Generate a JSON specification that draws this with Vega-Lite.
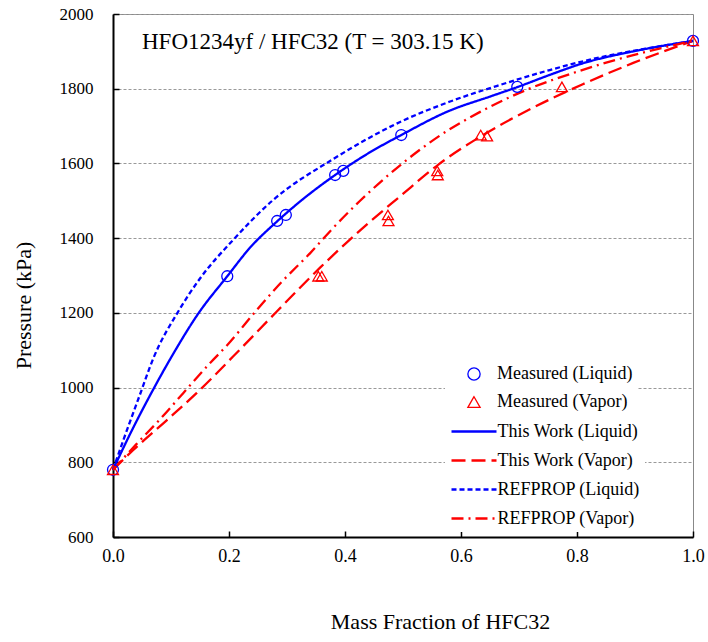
{
  "$schema": "https://vega.github.io/schema/vega-lite/v6.json",
  "width": 580,
  "height": 523,
  "autosize": {"type": "none"},
  "padding": {"left": 113, "top": 14, "right": 15, "bottom": 105},
  "background": "white",
  "config": {
    "font": "Liberation Serif",
    "view": {"stroke": "#888888", "strokeWidth": 1},
    "axis": {"labelFont": "Liberation Serif", "titleFont": "Liberation Serif", "labelColor": "black", "titleColor": "black", "titleFontWeight": "normal"},
    "legend": {"labelFont": "Liberation Serif", "labelColor": "black"}
  },
  "title": {
    "text": "HFO1234yf / HFC32 (T = 303.15 K)",
    "anchor": "start",
    "frame": "group",
    "orient": "top",
    "offset": 0,
    "baseline": "alphabetic",
    "dx": 29,
    "dy": 67,
    "font": "Liberation Serif",
    "fontSize": 23,
    "fontWeight": "normal",
    "color": "black"
  },
  "datasets": {
    "points": [
      {"series": "Measured (Liquid)", "x": 0.0, "p": 780},
      {"series": "Measured (Liquid)", "x": 0.197, "p": 1298},
      {"series": "Measured (Liquid)", "x": 0.283, "p": 1446},
      {"series": "Measured (Liquid)", "x": 0.298, "p": 1462},
      {"series": "Measured (Liquid)", "x": 0.383, "p": 1569},
      {"series": "Measured (Liquid)", "x": 0.397, "p": 1580},
      {"series": "Measured (Liquid)", "x": 0.497, "p": 1676},
      {"series": "Measured (Liquid)", "x": 0.697, "p": 1805},
      {"series": "Measured (Liquid)", "x": 1.0, "p": 1928},
      {"series": "Measured (Vapor)", "x": 0.0, "p": 780},
      {"series": "Measured (Vapor)", "x": 0.354, "p": 1298},
      {"series": "Measured (Vapor)", "x": 0.36, "p": 1298},
      {"series": "Measured (Vapor)", "x": 0.474, "p": 1462},
      {"series": "Measured (Vapor)", "x": 0.475, "p": 1446},
      {"series": "Measured (Vapor)", "x": 0.559, "p": 1580},
      {"series": "Measured (Vapor)", "x": 0.56, "p": 1569},
      {"series": "Measured (Vapor)", "x": 0.634, "p": 1676},
      {"series": "Measured (Vapor)", "x": 0.645, "p": 1673},
      {"series": "Measured (Vapor)", "x": 0.774, "p": 1805},
      {"series": "Measured (Vapor)", "x": 1.0, "p": 1928}
    ],
    "curves": [
      {"series": "This Work (Liquid)", "x": 0.0, "p": 780},
      {"series": "This Work (Liquid)", "x": 0.035, "p": 893},
      {"series": "This Work (Liquid)", "x": 0.058, "p": 962},
      {"series": "This Work (Liquid)", "x": 0.1, "p": 1080},
      {"series": "This Work (Liquid)", "x": 0.147, "p": 1198},
      {"series": "This Work (Liquid)", "x": 0.197, "p": 1298},
      {"series": "This Work (Liquid)", "x": 0.236, "p": 1374},
      {"series": "This Work (Liquid)", "x": 0.283, "p": 1445},
      {"series": "This Work (Liquid)", "x": 0.328, "p": 1505},
      {"series": "This Work (Liquid)", "x": 0.383, "p": 1569},
      {"series": "This Work (Liquid)", "x": 0.44, "p": 1627},
      {"series": "This Work (Liquid)", "x": 0.497, "p": 1676},
      {"series": "This Work (Liquid)", "x": 0.58, "p": 1741},
      {"series": "This Work (Liquid)", "x": 0.65, "p": 1779},
      {"series": "This Work (Liquid)", "x": 0.7, "p": 1806},
      {"series": "This Work (Liquid)", "x": 0.753, "p": 1837},
      {"series": "This Work (Liquid)", "x": 0.81, "p": 1868},
      {"series": "This Work (Liquid)", "x": 0.897, "p": 1900},
      {"series": "This Work (Liquid)", "x": 1.0, "p": 1928},
      {"series": "This Work (Vapor)", "x": 0.0, "p": 780},
      {"series": "This Work (Vapor)", "x": 0.035, "p": 833},
      {"series": "This Work (Vapor)", "x": 0.093, "p": 913},
      {"series": "This Work (Vapor)", "x": 0.144, "p": 985},
      {"series": "This Work (Vapor)", "x": 0.207, "p": 1083},
      {"series": "This Work (Vapor)", "x": 0.282, "p": 1203},
      {"series": "This Work (Vapor)", "x": 0.357, "p": 1321},
      {"series": "This Work (Vapor)", "x": 0.432, "p": 1429},
      {"series": "This Work (Vapor)", "x": 0.495, "p": 1512},
      {"series": "This Work (Vapor)", "x": 0.561, "p": 1597},
      {"series": "This Work (Vapor)", "x": 0.638, "p": 1676},
      {"series": "This Work (Vapor)", "x": 0.724, "p": 1749},
      {"series": "This Work (Vapor)", "x": 0.81, "p": 1812},
      {"series": "This Work (Vapor)", "x": 0.897, "p": 1869},
      {"series": "This Work (Vapor)", "x": 1.0, "p": 1928},
      {"series": "REFPROP (Liquid)", "x": 0.0, "p": 780},
      {"series": "REFPROP (Liquid)", "x": 0.018, "p": 860},
      {"series": "REFPROP (Liquid)", "x": 0.045, "p": 975},
      {"series": "REFPROP (Liquid)", "x": 0.07, "p": 1080},
      {"series": "REFPROP (Liquid)", "x": 0.113, "p": 1205},
      {"series": "REFPROP (Liquid)", "x": 0.15, "p": 1292},
      {"series": "REFPROP (Liquid)", "x": 0.207, "p": 1395},
      {"series": "REFPROP (Liquid)", "x": 0.276, "p": 1502},
      {"series": "REFPROP (Liquid)", "x": 0.38, "p": 1612},
      {"series": "REFPROP (Liquid)", "x": 0.495, "p": 1711},
      {"series": "REFPROP (Liquid)", "x": 0.58, "p": 1765},
      {"series": "REFPROP (Liquid)", "x": 0.667, "p": 1810},
      {"series": "REFPROP (Liquid)", "x": 0.753, "p": 1850},
      {"series": "REFPROP (Liquid)", "x": 0.84, "p": 1884},
      {"series": "REFPROP (Liquid)", "x": 0.926, "p": 1909},
      {"series": "REFPROP (Liquid)", "x": 1.0, "p": 1928},
      {"series": "REFPROP (Vapor)", "x": 0.0, "p": 780},
      {"series": "REFPROP (Vapor)", "x": 0.04, "p": 848},
      {"series": "REFPROP (Vapor)", "x": 0.081, "p": 915},
      {"series": "REFPROP (Vapor)", "x": 0.121, "p": 985},
      {"series": "REFPROP (Vapor)", "x": 0.167, "p": 1065},
      {"series": "REFPROP (Vapor)", "x": 0.196, "p": 1112},
      {"series": "REFPROP (Vapor)", "x": 0.248, "p": 1208},
      {"series": "REFPROP (Vapor)", "x": 0.291, "p": 1283},
      {"series": "REFPROP (Vapor)", "x": 0.34, "p": 1360},
      {"series": "REFPROP (Vapor)", "x": 0.38, "p": 1428},
      {"series": "REFPROP (Vapor)", "x": 0.426, "p": 1500},
      {"series": "REFPROP (Vapor)", "x": 0.495, "p": 1595},
      {"series": "REFPROP (Vapor)", "x": 0.564, "p": 1675},
      {"series": "REFPROP (Vapor)", "x": 0.633, "p": 1738},
      {"series": "REFPROP (Vapor)", "x": 0.713, "p": 1797},
      {"series": "REFPROP (Vapor)", "x": 0.805, "p": 1848},
      {"series": "REFPROP (Vapor)", "x": 0.897, "p": 1890},
      {"series": "REFPROP (Vapor)", "x": 1.0, "p": 1928}
    ]
  },
  "encoding": {
    "x": {
      "field": "x", "type": "quantitative",
      "scale": {"domain": [0, 1], "nice": false, "zero": false},
      "axis": {
        "title": "Mass Fraction of HFC32",
        "values": [0, 0.2, 0.4, 0.6, 0.8, 1.0],
        "format": ".1f",
        "grid": false, "labelFlush": false, "labelOverlap": false,
        "domainColor": "black", "domainWidth": 2,
        "tickColor": "black", "tickWidth": 1.5, "tickSize": -6,
        "labelFontSize": 18, "labelPadding": 16,
        "titleFontSize": 22, "titleX": 327, "titleY": 74
      }
    },
    "y": {
      "field": "p", "type": "quantitative",
      "scale": {"domain": [600, 2000], "nice": false, "zero": false},
      "axis": {
        "title": "Pressure (kPa)",
        "values": [600, 800, 1000, 1200, 1400, 1600, 1800, 2000],
        "format": "d", "labelOverlap": false,
        "grid": true, "gridColor": "#999999", "gridDash": [3, 2], "gridWidth": 1,
        "domainColor": "black", "domainWidth": 2,
        "tickColor": "black", "tickWidth": 1.5, "tickSize": -6,
        "labelFontSize": 17, "labelPadding": 26,
        "titleFontSize": 22, "titleX": -78, "titleY": 291
      }
    }
  },
  "layer": [
    {
      "data": {"name": "curves"},
      "mark": {"type": "line", "interpolate": "monotone", "strokeWidth": 2.3},
      "encoding": {
        "color": {
          "field": "series", "type": "nominal",
          "scale": {"domain": ["This Work (Liquid)", "This Work (Vapor)", "REFPROP (Liquid)", "REFPROP (Vapor)"], "range": ["#0000FF", "#FF0000", "#0000FF", "#FF0000"]},
          "legend": {
            "title": null, "orient": "none", "legendX": 332, "legendY": 403,
            "symbolType": "M-2.5,0H2.5", "symbolSize": 324, "symbolStrokeWidth": 2.5, "symbolOffset": 14.5,
            "labelFontSize": 18, "labelOffset": 13, "rowPadding": 9, "padding": 4,
            "fillColor": "white", "labelLimit": 300
          }
        },
        "strokeDash": {
          "field": "series", "type": "nominal",
          "scale": {"domain": ["This Work (Liquid)", "This Work (Vapor)", "REFPROP (Liquid)", "REFPROP (Vapor)"], "range": [[1, 0], [14, 6], [5, 3], [12, 5, 2, 5]]},
          "legend": {
            "title": null, "orient": "none", "legendX": 332, "legendY": 403,
            "symbolType": "M-2.5,0H2.5", "symbolSize": 324, "symbolStrokeWidth": 2.5, "symbolOffset": 14.5,
            "labelFontSize": 18, "labelOffset": 13, "rowPadding": 9, "padding": 4,
            "fillColor": "white", "labelLimit": 300
          }
        }
      }
    },
    {
      "data": {"name": "points"},
      "mark": {"type": "point", "filled": false, "size": 120, "strokeWidth": 1.3, "opacity": 1},
      "encoding": {
        "color": {
          "field": "series", "type": "nominal",
          "scale": {"domain": ["Measured (Liquid)", "Measured (Vapor)"], "range": ["#0000FF", "#FF0000"]},
          "legend": {
            "title": null, "orient": "none", "legendX": 332, "legendY": 347,
            "symbolSize": 150, "symbolStrokeWidth": 1.3, "symbolOffset": 16,
            "labelFontSize": 18, "labelOffset": 14, "rowPadding": 10, "padding": 4,
            "fillColor": "white", "labelLimit": 300
          }
        },
        "shape": {
          "field": "series", "type": "nominal",
          "scale": {"domain": ["Measured (Liquid)", "Measured (Vapor)"], "range": ["circle", "triangle-up"]},
          "legend": {
            "title": null, "orient": "none", "legendX": 332, "legendY": 347,
            "symbolSize": 150, "symbolStrokeWidth": 1.3, "symbolOffset": 16,
            "labelFontSize": 18, "labelOffset": 14, "rowPadding": 10, "padding": 4,
            "fillColor": "white", "labelLimit": 300
          }
        }
      }
    }
  ],
  "resolve": {
    "scale": {"color": "independent", "shape": "independent", "strokeDash": "independent"},
    "legend": {"color": "independent", "shape": "independent", "strokeDash": "independent"}
  }
}
